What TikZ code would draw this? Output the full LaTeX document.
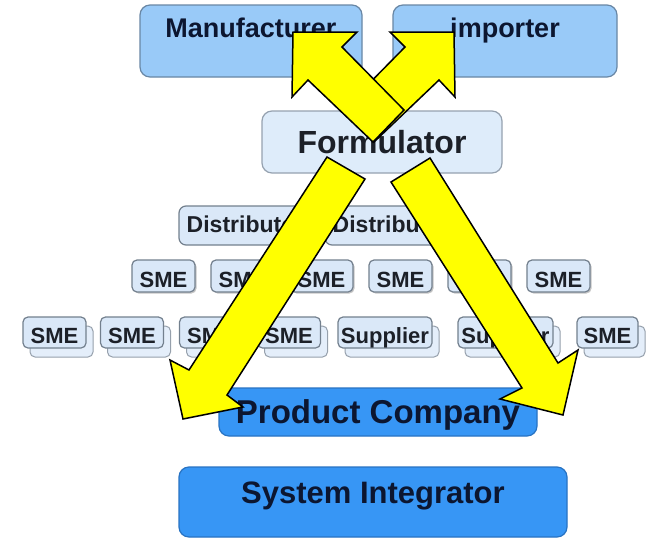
\documentclass[tikz,border=0pt]{standalone}
\usepackage{fontspec}
\setmainfont{Liberation Sans}
\usetikzlibrary{shadows}
\definecolor{lblue}{RGB}{153,202,248}
\definecolor{lbluedraw}{RGB}{105,135,165}
\definecolor{pale}{RGB}{222,236,250}
\definecolor{paledraw}{RGB}{150,162,176}
\definecolor{smfill}{RGB}{218,232,248}
\definecolor{smdraw}{RGB}{115,128,142}
\definecolor{bkfill}{RGB}{228,238,250}
\definecolor{bkdraw}{RGB}{150,160,172}
\definecolor{dblue}{RGB}{55,150,245}
\definecolor{dbluedraw}{RGB}{40,115,195}
\definecolor{navy}{RGB}{12,22,48}
\definecolor{ink}{RGB}{28,32,40}
\definecolor{arrowyellow}{RGB}{255,255,0}
\tikzset{
  basebox/.style={anchor=base, inner sep=0pt, line width=1.2pt},
  topbox/.style={basebox, rounded corners=10pt, fill=lblue, draw=lbluedraw, text=navy,
    font=\fontsize{27}{30}\selectfont\bfseries, text height=32pt, text depth=40pt},
  formbox/.style={basebox, rounded corners=10pt, fill=pale, draw=paledraw, text=ink,
    font=\fontsize{32}{36}\selectfont\bfseries, text height=42pt, text depth=20pt, minimum width=240pt},
  distbox/.style={basebox, rounded corners=7pt, fill=smfill, draw=smdraw, text=ink,
    font=\fontsize{23}{26}\selectfont\bfseries, text height=26pt, text depth=13pt, minimum width=133pt},
  smebox/.style={basebox, rounded corners=5pt, fill=smfill, draw=smdraw, text=ink,
    font=\fontsize{22}{25}\selectfont\bfseries, minimum width=63pt},
  rowone/.style={smebox, text height=27pt, text depth=5pt,
    drop shadow={shadow xshift=1.5pt, shadow yshift=-1.5pt, fill=gray, opacity=0.45}},
  rowtwo/.style={smebox, text height=26pt, text depth=5pt,
    copy shadow={shadow xshift=7pt, shadow yshift=-9pt, fill=bkfill, draw=bkdraw, line width=1pt}},
  bigbox/.style={basebox, rounded corners=10pt, fill=dblue, draw=dbluedraw, text=navy},
  blockarrow/.style={fill=arrowyellow, draw=black, line width=1.5pt, line join=miter},
}
\begin{document}
\begin{tikzpicture}[x=1pt,y=-1pt]
\useasboundingbox[fill=white] (0,0) rectangle (654,539);

% top row
\node[topbox, minimum width=222pt] (man) at (251,37) {Manufacturer};
\node[topbox, minimum width=224pt] (imp) at (505,37) {importer};
% formulator
\node[formbox] (form) at (382,153) {Formulator};
% distributors
\node[distbox] (dist1) at (245.5,232) {Distributor};
\node[distbox] (dist2) at (391.5,232) {Distributor};
% SME row 1
\node[rowone] (s1) at (163.5,287) {SME};
\node[rowone] (s2) at (242.5,287) {SME};
\node[rowone] (s3) at (321.5,287) {SME};
\node[rowone] (s4) at (400.5,287) {SME};
\node[rowone] (s5) at (479.5,287) {SME};
\node[rowone] (s6) at (558.5,287) {SME};
% row 2
\node[rowtwo] (t1) at (54.5,343) {SME};
\node[rowtwo] (t2) at (132,343) {SME};
\node[rowtwo] (t3) at (211,343) {SME};
\node[rowtwo] (t4) at (289,343) {SME};
\node[rowtwo, minimum width=94pt] (t5) at (385,343) {Supplier};
\node[rowtwo, minimum width=95pt] (t6) at (505.5,343) {Supplier};
\node[rowtwo, minimum width=61pt] (t7) at (607.5,343) {SME};
% bottom boxes
\node[bigbox, font=\fontsize{33}{36}\selectfont\bfseries, minimum width=318pt,
  text height=35pt, text depth=13pt] (prod) at (378,423) {Product Company};
\node[bigbox, font=\fontsize{31}{34}\selectfont\bfseries, minimum width=388pt,
  text height=36pt, text depth=34pt] (sys) at (373,503) {System Integrator};

% block arrows
\draw[blockarrow] (454,32) -- (390,32) -- (405,47) -- (343,110) -- (374,142)
  -- (439,80) -- (455,97) -- cycle;
\draw[blockarrow] (293,32) -- (357,32) -- (342,47) -- (404,110) -- (373,142)
  -- (308,80) -- (292,97) -- cycle;
\draw[blockarrow] (327,157) -- (365,179) -- (227,395) -- (243,407) -- (183,419)
  -- (170,360) -- (189,370) -- cycle;
\draw[blockarrow] (391,182) -- (430,158) -- (558,363) -- (578,350) -- (563,415)
  -- (500,399) -- (522,388) -- cycle;
\end{tikzpicture}
\end{document}
